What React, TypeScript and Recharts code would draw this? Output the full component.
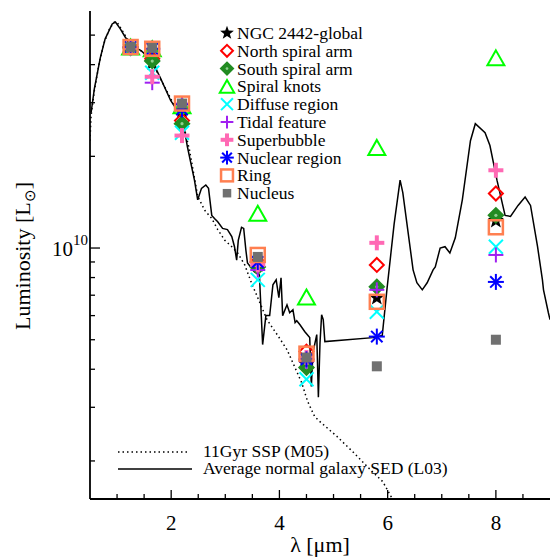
import React from 'react';
import { ComposedChart, Line, Scatter, XAxis, YAxis } from 'recharts';

// IRAC / 2MASS band wavelengths (micron)
const wavelengths = [1.25, 1.65, 2.2, 3.6, 4.5, 5.8, 8.0];

// Luminosities (L_sun) per region
const ngcGlobal = [4.57e10, 4.05e10, 2.83e10, 8.8e9, 4.15e9, 6.87e9, 1.23e10];
const northArm = [4.57e10, 4.18e10, 2.62e10, 9.0e9, 4.57e9, 8.8e9, 1.51e10];
const southArm = [4.54e10, 4.11e10, 2.56e10, 8.67e9, 4.05e9, 7.46e9, 1.28e10];
const spiralKnots = [4.57e10, 4.51e10, 2.93e10, 1.3e10, 6.91e9, 2.14e10, 4.21e10];
const diffuseRegion = [4.54e10, 3.76e10, 2.39e10, 7.86e9, 3.71e9, 6.18e9, 1.01e10];
const tidalFeature = [4.54e10, 3.49e10, 2.98e10, 8.47e9, 4.24e9, 7.29e9, 9.49e9];
const superbubble = [4.54e10, 3.65e10, 2.34e10, 8.8e9, 4.37e9, 1.04e10, 1.8e10];
const nuclearRegion = [4.57e10, 4.51e10, 2.85e10, 9.0e9, 4.31e9, 5.12e9, 7.74e9];
const ringRegion = [4.57e10, 4.51e10, 2.98e10, 9.49e9, 4.5e9, 6.66e9, 1.17e10];
const nucleusRegion = [4.57e10, 4.54e10, 2.98e10, 9.35e9, 4.37e9, 4.09e9, 5.0e9];

// 11 Gyr SSP (M05) template
const sspLambda = [0.5, 0.52, 0.58, 0.67, 0.76, 0.86, 0.95, 1.01, 1.1, 1.19, 1.32, 1.51, 1.65, 1.84, 2.06, 2.21, 2.34, 2.49, 2.62, 2.75, 2.86, 2.99, 3.12, 3.23, 3.36, 3.49, 3.6, 3.77, 3.97, 4.14, 4.28, 4.41, 4.52, 4.65, 4.74, 5.06, 5.36, 5.67, 5.91, 6.08, 6.2];
const sspLum = [2.25e10, 2.72e10, 3.28e10, 4.05e10, 4.71e10, 5.24e10, 5.52e10, 5.48e10, 5.16e10, 4.86e10, 4.57e10, 4.37e10, 4.05e10, 3.49e10, 2.93e10, 2.62e10, 2.09e10, 1.48e10, 1.33e10, 1.25e10, 1.15e10, 1.06e10, 1.01e10, 9.63e9, 8.8e9, 7.63e9, 6.87e9, 5.82e9, 5.16e9, 4.64e9, 4.08e9, 3.62e9, 3.14e9, 2.8e9, 2.7e9, 2.41e9, 2.14e9, 1.88e9, 1.71e9, 1.51e9, 1.4e9];

// Average normal galaxy SED (L03) template
const l03Lambda = [0.52, 0.58, 0.69, 0.78, 0.91, 0.97, 1.06, 1.15, 1.25, 1.45, 1.65, 1.8, 1.99, 2.21, 2.3, 2.43, 2.49, 2.56, 2.64, 2.69, 2.75, 2.8, 2.86, 2.95, 3.04, 3.12, 3.17, 3.21, 3.24, 3.3, 3.34, 3.38, 3.41, 3.54, 3.63, 3.69, 3.75, 3.82, 3.88, 3.94, 3.99, 4.03, 4.06, 4.14, 4.19, 4.25, 4.29, 4.32, 4.38, 4.47, 4.56, 4.59, 4.62, 4.69, 4.72, 4.75, 4.78, 4.81, 4.84, 5.73, 5.9, 5.99, 6.12, 6.23, 6.28, 6.47, 6.54, 6.64, 6.73, 6.84, 6.88, 6.97, 7.06, 7.15, 7.25, 7.38, 7.53, 7.62, 7.8, 7.89, 8.02, 8.17, 8.27, 8.41, 8.54, 8.64, 8.77, 8.86, 8.88, 8.97, 9.0];
const l03Lum = [2.78e10, 3.33e10, 4.21e10, 4.86e10, 5.44e10, 5.52e10, 5.24e10, 4.93e10, 4.64e10, 4.44e10, 4.11e10, 3.62e10, 3.05e10, 2.66e10, 2.15e10, 1.67e10, 1.44e10, 1.57e10, 1.61e10, 1.57e10, 1.28e10, 1.25e10, 1.22e10, 1.16e10, 1.15e10, 1.09e10, 1.01e10, 9.13e9, 1.06e10, 1.17e10, 1.16e10, 9.85e9, 8.93e9, 8.35e9, 8.16e9, 4.82e9, 6.0e9, 6.0e9, 7.57e9, 7.86e9, 6.87e9, 7.98e9, 6.0e9, 6.51e9, 6.13e9, 6.27e9, 5.69e9, 5.77e9, 5.6e9, 5.31e9, 5.08e9, 3.51e9, 4.54e9, 5.2e9, 3.24e9, 4.89e9, 6.04e9, 5.82e9, 4.93e9, 5.08e9, 5.16e9, 7.4e9, 1.2e10, 1.67e10, 1.52e10, 8.48e9, 7.69e9, 7.29e9, 7.69e9, 8.48e9, 8.67e9, 1.0e10, 1.01e10, 9.63e9, 1.08e10, 1.44e10, 2.25e10, 2.56e10, 2.39e10, 2.17e10, 1.67e10, 1.28e10, 1.27e10, 1.38e10, 1.47e10, 1.38e10, 1.01e10, 7.86e9, 7.29e9, 6.13e9, 5.82e9];

// Axis ticks
const xTicks = [1, 1.5, 2, 2.5, 3, 3.5, 4, 4.5, 5, 5.5, 6, 6.5, 7, 7.5, 8, 8.5];
const xLabelTicks = [2, 4, 6, 8];
const yTicks = [2e9, 3e9, 4e9, 5e9, 6e9, 7e9, 8e9, 9e9, 1e10, 2e10, 3e10, 4e10, 5e10];

const legendLabels = ['NGC 2442-global', 'North spiral arm', 'South spiral arm', 'Spiral knots', 'Diffuse region', 'Tidal feature', 'Superbubble', 'Nuclear region', 'Ring', 'Nucleus'];

const SERIF: React.CSSProperties = { fontFamily: 'Liberation Serif' };

type Kind = 'star' | 'rdiamond' | 'gdiamond' | 'triangle' | 'xcross' | 'plus' | 'pplus' | 'asterisk' | 'square' | 'gsquare';

function marker(kind: Kind, cx: number, cy: number, s = 1): React.ReactElement {
  switch (kind) {
    case 'star': {
      const pts: string[] = [];
      for (let i = 0; i < 10; i++) {
        const r = i % 2 === 0 ? 8.5 * s : 3.5 * s;
        const a = -Math.PI / 2 + (i * Math.PI) / 5;
        pts.push(`${cx + r * Math.cos(a)},${cy + r * Math.sin(a)}`);
      }
      return <polygon points={pts.join(' ')} fill="#000" />;
    }
    case 'rdiamond': {
      const d = 7 * s;
      return <polygon points={`${cx},${cy - d} ${cx + d},${cy} ${cx},${cy + d} ${cx - d},${cy}`} fill="none" stroke="#FF0000" strokeWidth={2} />;
    }
    case 'gdiamond': {
      const d = 7.5 * s;
      return (
        <g>
          <polygon points={`${cx},${cy - d} ${cx + d},${cy} ${cx},${cy + d} ${cx - d},${cy}`} fill="#228B22" stroke="#228B22" strokeWidth={1.5} />
          <circle cx={cx} cy={cy} r={1.6 * s} fill="#8FCF8F" />
        </g>
      );
    }
    case 'triangle': {
      const w = 8.5 * s;
      const h = 7.5 * s;
      return <polygon points={`${cx},${cy - h} ${cx + w},${cy + h} ${cx - w},${cy + h}`} fill="none" stroke="#00FF00" strokeWidth={2} />;
    }
    case 'xcross': {
      const d = 7 * s;
      return (
        <g stroke="#00FFFF" strokeWidth={2}>
          <line x1={cx - d} y1={cy - d} x2={cx + d} y2={cy + d} />
          <line x1={cx - d} y1={cy + d} x2={cx + d} y2={cy - d} />
        </g>
      );
    }
    case 'plus': {
      const d = 7.5 * s;
      return (
        <g stroke="#A020F0" strokeWidth={2}>
          <line x1={cx - d} y1={cy} x2={cx + d} y2={cy} />
          <line x1={cx} y1={cy - d} x2={cx} y2={cy + d} />
        </g>
      );
    }
    case 'pplus': {
      const d = 7.5 * s;
      return (
        <g stroke="#FF69B4" strokeWidth={4}>
          <line x1={cx - d} y1={cy} x2={cx + d} y2={cy} />
          <line x1={cx} y1={cy - d} x2={cx} y2={cy + d} />
        </g>
      );
    }
    case 'asterisk': {
      const d = 8 * s;
      const e = 5.7 * s;
      return (
        <g stroke="#0000FF" strokeWidth={2}>
          <line x1={cx - d} y1={cy} x2={cx + d} y2={cy} />
          <line x1={cx} y1={cy - d} x2={cx} y2={cy + d} />
          <line x1={cx - e} y1={cy - e} x2={cx + e} y2={cy + e} />
          <line x1={cx - e} y1={cy + e} x2={cx + e} y2={cy - e} />
        </g>
      );
    }
    case 'square': {
      const d = 7 * s;
      return <rect x={cx - d} y={cy - d} width={2 * d} height={2 * d} fill="none" stroke="#FF7F50" strokeWidth={2.5} />;
    }
    case 'gsquare':
    default: {
      const d = 5 * s;
      return <rect x={cx - d} y={cy - d} width={2 * d} height={2 * d} fill="#707070" />;
    }
  }
}

const seriesList: { name: string; kind: Kind; values: number[] }[] = [
  { name: legendLabels[0], kind: 'star', values: ngcGlobal },
  { name: legendLabels[1], kind: 'rdiamond', values: northArm },
  { name: legendLabels[2], kind: 'gdiamond', values: southArm },
  { name: legendLabels[3], kind: 'triangle', values: spiralKnots },
  { name: legendLabels[4], kind: 'xcross', values: diffuseRegion },
  { name: legendLabels[5], kind: 'plus', values: tidalFeature },
  { name: legendLabels[6], kind: 'pplus', values: superbubble },
  { name: legendLabels[7], kind: 'asterisk', values: nuclearRegion },
  { name: legendLabels[8], kind: 'square', values: ringRegion },
  { name: legendLabels[9], kind: 'gsquare', values: nucleusRegion },
];

const sspData = sspLambda.map((x, i) => ({ x, y: sspLum[i] }));
const l03Data = l03Lambda.map((x, i) => ({ x, y: l03Lum[i] }));

const BottomTick = (props: any) => {
  const { x, y, payload } = props;
  const v = payload.value;
  const major = xLabelTicks.includes(v);
  return (
    <g>
      <line x1={x} x2={x} y1={y} y2={y - (major ? 9 : 5)} stroke="#000" strokeWidth={1.3} />
      {major && (
        <text x={x} y={y + 31} textAnchor="middle" style={SERIF} fontSize={21} fill="#000">
          {v}
        </text>
      )}
    </g>
  );
};

const TopTick = (props: any) => {
  const { x, y, payload } = props;
  const major = xLabelTicks.includes(payload.value);
  return <line x1={x} x2={x} y1={y} y2={y + (major ? 9 : 5)} stroke="#000" strokeWidth={1.3} />;
};

const LeftTick = (props: any) => {
  const { x, y, payload } = props;
  const major = payload.value === 1e10;
  return (
    <g>
      <line x1={x} x2={x + (major ? 10 : 5)} y1={y} y2={y} stroke="#000" strokeWidth={1.3} />
      {major && (
        <text x={x - 2} y={y + 8} textAnchor="end" style={SERIF} fontSize={21} fill="#000">
          10
          <tspan dy={-11} fontSize={15}>10</tspan>
        </text>
      )}
    </g>
  );
};

const RightTick = (props: any) => {
  const { x, y, payload } = props;
  const major = payload.value === 1e10;
  return <line x1={x} x2={x - (major ? 10 : 5)} y1={y} y2={y} stroke="#000" strokeWidth={1.3} />;
};

export default function App() {
  const legendY0 = 33;
  const legendStep = 17.8;
  return (
    <div style={{ position: 'absolute', left: 0, top: 0, width: 551, height: 558, background: '#fff' }}>
      <ComposedChart width={551} height={558} margin={{ top: 11, right: 1, bottom: 0, left: 0 }}>
        <XAxis
          xAxisId="b"
          dataKey="x"
          type="number"
          domain={[0.5, 9]}
          allowDataOverflow
          ticks={xTicks}
          interval={0}
          height={59}
          tickSize={0}
          tickMargin={0}
          tick={<BottomTick />}
          axisLine={{ stroke: '#000', strokeWidth: 1.8 }}
          tickLine={false}
        />
        <XAxis
          xAxisId="t"
          orientation="top"
          dataKey="x"
          type="number"
          domain={[0.5, 9]}
          allowDataOverflow
          ticks={xTicks}
          interval={0}
          height={0}
          tickSize={0}
          tickMargin={0}
          tick={<TopTick />}
          axisLine={{ stroke: '#000', strokeWidth: 1.8 }}
          tickLine={false}
        />
        <YAxis
          yAxisId="l"
          dataKey="y"
          type="number"
          scale="log"
          domain={[1.5e9, 6e10]}
          allowDataOverflow
          ticks={yTicks}
          interval={0}
          width={90}
          tickSize={0}
          tickMargin={0}
          tick={<LeftTick />}
          axisLine={{ stroke: '#000', strokeWidth: 1.8 }}
          tickLine={false}
        />
        <YAxis
          yAxisId="r"
          orientation="right"
          dataKey="y"
          type="number"
          scale="log"
          domain={[1.5e9, 6e10]}
          allowDataOverflow
          ticks={yTicks}
          interval={0}
          width={0}
          tickSize={0}
          tickMargin={0}
          tick={<RightTick />}
          axisLine={{ stroke: '#000', strokeWidth: 1.8 }}
          tickLine={false}
        />
        <Line
          xAxisId="b"
          yAxisId="l"
          data={sspData}
          dataKey="y"
          type="linear"
          stroke="#000"
          strokeWidth={1.5}
          strokeDasharray="1.5 3"
          dot={false}
          isAnimationActive={false}
        />
        <Line
          xAxisId="b"
          yAxisId="l"
          data={l03Data}
          dataKey="y"
          type="linear"
          stroke="#000"
          strokeWidth={1.5}
          dot={false}
          isAnimationActive={false}
        />
        {seriesList.map((s) => (
          <Scatter
            key={s.name}
            name={s.name}
            xAxisId="b"
            yAxisId="l"
            data={wavelengths.map((x, i) => ({ x, y: s.values[i] }))}
            dataKey="y"
            isAnimationActive={false}
            shape={(p: any) => marker(s.kind, p.cx, p.cy)}
          />
        ))}
      </ComposedChart>
      <svg
        width={551}
        height={558}
        style={{ position: 'absolute', left: 0, top: 0, pointerEvents: 'none' }}
      >
        {seriesList.map((s, i) => {
          const cy = legendY0 + i * legendStep;
          return (
            <g key={s.name}>
              {marker(s.kind, 227, cy, 0.85)}
              <text x={237} y={cy + 6} style={SERIF} fontSize={17.5} fill="#000">
                {s.name}
              </text>
            </g>
          );
        })}
        <line x1={118} x2={190} y1={452} y2={452} stroke="#000" strokeWidth={1.5} strokeDasharray="1.5 3" />
        <text x={203} y={457} style={SERIF} fontSize={17.5} fill="#000">11Gyr SSP (M05)</text>
        <line x1={118} x2={192} y1={469} y2={469} stroke="#000" strokeWidth={1.5} />
        <text x={203} y={474} style={SERIF} fontSize={17.5} fill="#000">Average normal galaxy SED (L03)</text>
        <text x={320} y={552} textAnchor="middle" style={SERIF} fontSize={22} fill="#000">λ [μm]</text>
        <text
          x={30}
          y={256}
          textAnchor="middle"
          style={SERIF}
          fontSize={22}
          fill="#000"
          transform="rotate(-90 30 256)"
        >
          Luminosity [L<tspan dy={5} fontSize={15}>⊙</tspan><tspan dy={-5}>]</tspan>
        </text>
      </svg>
    </div>
  );
}
